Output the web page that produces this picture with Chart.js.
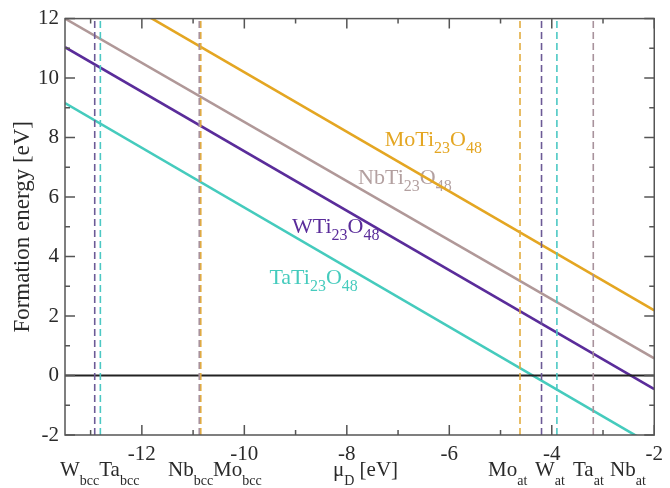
<!DOCTYPE html>
<html><head><meta charset="utf-8">
<script src="https://cdn.jsdelivr.net/npm/chart.js@4"></script>
<style>html,body{margin:0;padding:0;background:#fff}#wrap{width:670px;height:488px;position:relative}</style>
</head><body><div id="wrap"><canvas id="c"></canvas></div>
<script>
// ---- data ----
const muEnds = [-13.5, -2];              // chemical potential range (x) of the solid lines
const moTi = [13.70, 2.19];              // formation energy at muEnds
const nbTi = [12.00, 0.58];
const wTi  = [11.04, -0.46];
const taTi = [9.16, -2.38];
const refNames = ['W_bcc', 'Ta_bcc', 'Nb_bcc', 'Mo_bcc', 'Mo_at', 'W_at', 'Ta_at', 'Nb_at'];
const refMu    = [-12.92, -12.81, -10.88, -10.85, -4.62, -4.20, -3.90, -3.19];
const refElem  = ['W', 'Ta', 'Nb', 'Mo', 'Mo', 'W', 'Ta', 'Nb'];
const yRange = [-2, 12];
const xMajor = [-12, -10, -8, -6, -4, -2];
const xMinor = [-13, -11, -9, -7, -5, -3];
const yMajor = [-2, 0, 2, 4, 6, 8, 10, 12];
const yMinor = [-1, 1, 3, 5, 7, 9, 11];
// label anchors (mu, E) for the series names
const seriesLabelMu = [-7.26, -7.78, -9.07, -9.51];
const seriesLabelE  = [7.71, 6.44, 4.80, 3.09];

const colors = { Mo: '#e4a622', Nb: '#b09898', W: '#5a2c9a', Ta: '#45cbbd' };
const refColors = { Mo: '#e2ac40', Nb: '#a8929c', W: '#6c5a96', Ta: '#4cc8c4' };
const FONT = '"Liberation Serif", "Times New Roman", serif';

const pts = arr => muEnds.map((m, i) => ({ x: m, y: arr[i] }));
const datasets = [];
refMu.forEach((m, i) => {
  datasets.push({
    label: refNames[i],
    data: [{ x: m, y: yRange[0] }, { x: m, y: yRange[1] }],
    borderColor: refColors[refElem[i]], borderWidth: 1.6, borderDash: [7, 4],
    pointRadius: 0, showLine: true, fill: false
  });
});
datasets.push({ label: 'zero', data: [{ x: muEnds[0], y: 0 }, { x: muEnds[1], y: 0 }],
  borderColor: '#222', borderWidth: 2, pointRadius: 0, showLine: true });
[[taTi, 'Ta'], [wTi, 'W'], [nbTi, 'Nb'], [moTi, 'Mo']].forEach(([arr, el]) => {
  datasets.push({ label: el + 'Ti23O48', data: pts(arr), borderColor: colors[el], borderWidth: 2.6,
    pointRadius: 0, showLine: true, fill: false });
});

const seriesLabels = [
  { parts: [['MoTi', 0], ['23', 1], ['O', 0], ['48', 1]], color: colors.Mo },
  { parts: [['NbTi', 0], ['23', 1], ['O', 0], ['48', 1]], color: '#b3a0a0' },
  { parts: [['WTi', 0], ['23', 1], ['O', 0], ['48', 1]], color: colors.W },
  { parts: [['TaTi', 0], ['23', 1], ['O', 0], ['48', 1]], color: colors.Ta }
];
const bottomGroups = [
  { x: 60,  parts: [['W', 0], ['bcc', 1], ['Ta', 0], ['bcc', 1]] },
  { x: 168, parts: [['Nb', 0], ['bcc', 1], ['Mo', 0], ['bcc', 1]] },
  { x: 333, parts: [['\u03bc', 0], ['D', 1], [' [eV]', 0]] },
  { x: 488, parts: [['Mo', 0], ['at', 1]] },
  { x: 535, parts: [['W', 0], ['at', 1]] },
  { x: 573, parts: [['Ta', 0], ['at', 1]] },
  { x: 610, parts: [['Nb', 0], ['at', 1]] }
];

function drawParts(ctx, parts, x, y, mainSize, subSize, subDy, color) {
  ctx.save();
  ctx.fillStyle = color; ctx.textBaseline = 'alphabetic'; ctx.textAlign = 'left';
  let cx = x;
  parts.forEach(([t, sub]) => {
    ctx.font = (sub ? subSize : mainSize) + 'px ' + FONT;
    ctx.fillText(t, cx, sub ? y + subDy : y);
    cx += ctx.measureText(t).width;
  });
  ctx.restore();
}

const decor = {
  id: 'decor',
  beforeDatasetsDraw(chart) {
    const { ctx, scales: { x, y } } = chart;
    seriesLabels.forEach((l, i) => {
      drawParts(ctx, l.parts, x.getPixelForValue(seriesLabelMu[i]), y.getPixelForValue(seriesLabelE[i]), 22, 16, 7, l.color);
    });
  },
  afterDraw(chart) {
    const { ctx, chartArea: a, scales: { x, y } } = chart;
    ctx.save();
    ctx.strokeStyle = '#555'; ctx.lineWidth = 1.5;
    ctx.strokeRect(a.left, a.top, a.right - a.left, a.bottom - a.top);
    const tick = (vals, len) => {
      vals.forEach(v => {
        const px = x.getPixelForValue(v);
        ctx.beginPath(); ctx.moveTo(px, a.bottom); ctx.lineTo(px, a.bottom - len);
        ctx.moveTo(px, a.top); ctx.lineTo(px, a.top + len); ctx.stroke();
      });
    };
    const tickY = (vals, len) => {
      vals.forEach(v => {
        const py = y.getPixelForValue(v);
        ctx.beginPath(); ctx.moveTo(a.left, py); ctx.lineTo(a.left + len, py);
        ctx.moveTo(a.right, py); ctx.lineTo(a.right - len, py); ctx.stroke();
      });
    };
    tick(xMajor, 10); tick(xMinor, 5); tickY(yMajor, 10); tickY(yMinor, 5);
    // y title
    ctx.save();
    ctx.translate(23, (a.top + a.bottom) / 2);
    ctx.rotate(-Math.PI / 2);
    ctx.font = '23px ' + FONT; ctx.fillStyle = '#2a2a2a'; ctx.textAlign = 'center'; ctx.textBaseline = 'middle';
    ctx.fillText('Formation energy [eV]', 0, 0);
    ctx.restore();
    bottomGroups.forEach(g => drawParts(ctx, g.parts, g.x, 476, 21, 14, 9, '#2a2a2a'));
    ctx.restore();
  }
};

new Chart(document.getElementById('c'), {
  type: 'scatter',
  data: { datasets },
  options: {
    responsive: true, maintainAspectRatio: false, animation: false, devicePixelRatio: 1,
    layout: { padding: { left: 0, right: 7, top: 17, bottom: 0 } },
    plugins: { legend: { display: false }, tooltip: { enabled: false } },
    scales: {
      x: {
        type: 'linear', min: muEnds[0], max: muEnds[1],
        grid: { display: false, drawTicks: false }, border: { display: false },
        afterBuildTicks: s => { s.ticks = xMajor.map(v => ({ value: v })); },
        afterFit: s => { s.height = 53; },
        ticks: { color: '#2a2a2a', font: { family: FONT, size: 21 }, padding: 7, maxRotation: 0,
          callback: v => String(v) }
      },
      y: {
        min: yRange[0], max: yRange[1],
        grid: { display: false, drawTicks: false }, border: { display: false },
        afterBuildTicks: s => { s.ticks = yMajor.map(v => ({ value: v })); },
        afterFit: s => { s.width = 65; },
        ticks: { color: '#2a2a2a', font: { family: FONT, size: 21 }, padding: 6, callback: v => String(v) }
      }
    }
  },
  plugins: [decor]
});
</script></body></html>
